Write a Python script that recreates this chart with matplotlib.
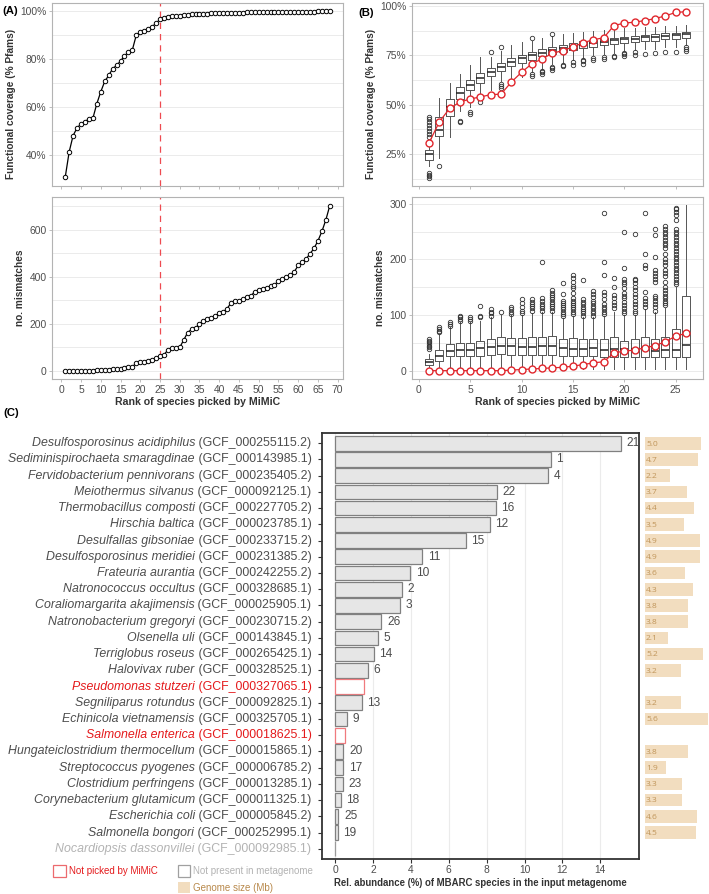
import matplotlib
matplotlib.use("Agg")
import matplotlib.pyplot as plt
from matplotlib.patches import Rectangle
from matplotlib.transforms import offset_copy, blended_transform_factory

plt.rcParams['font.family'] = ['Liberation Sans', 'DejaVu Sans']

# ---------------- data ----------------
# (A) cumulative functional coverage (% Pfams) and mismatches per rank
coverage = [30.7, 41.3, 48.1, 51.3, 52.9, 53.9, 55.1, 55.3, 61.4, 66.4,
            70.7, 73.2, 76.0, 77.4, 79.2, 81.4, 82.9, 83.9, 90.1, 91.3,
            91.8, 92.6, 93.6, 95.0, 96.7, 97.1, 97.6, 97.9, 98.1, 98.2,
            98.4, 98.6, 98.7, 98.8, 98.9, 99.0, 99.1, 99.15, 99.2, 99.25,
            99.3, 99.35, 99.4, 99.45, 99.5, 99.5, 99.55, 99.6, 99.6, 99.65,
            99.65, 99.7, 99.7, 99.75, 99.75, 99.8, 99.8, 99.8, 99.85, 99.85,
            99.85, 99.9, 99.9, 99.9, 99.95, 99.95, 99.95, 100.0]
mismatches = [0, 0, 0, 0, 0, 0, 0, 0, 1, 2, 3, 4, 5, 6, 8, 11, 14, 16, 32, 35,
              37, 41, 45, 52, 62, 67, 88, 95, 97, 99, 130, 162, 176, 182, 198,
              212, 219, 224, 233, 244, 250, 264, 289, 295, 298, 304, 313, 318,
              336, 342, 349, 353, 359, 366, 381, 391, 398, 407, 421, 448, 462,
              476, 498, 521, 553, 593, 642, 703]
cutoff_rank = 25

# (B) random-pick distributions per rank: q1, median, q3, whisker low, whisker high
cov_q1 = [22.1, 34.3, 44.4, 52.8, 57.2, 61.0, 64.6, 67.3, 69.7, 71.3, 72.7, 74.4, 75.6,
          76.9, 77.8, 78.6, 79.4, 80.3, 80.8, 81.1, 81.6, 82.0, 82.5, 83.1, 83.5, 84.0]
cov_med = [25.0, 37.3, 48.6, 56.0, 60.2, 63.6, 66.8, 69.3, 71.7, 73.5, 75.0, 76.4, 77.8,
           78.6, 79.4, 80.3, 81.1, 81.6, 82.8, 83.1, 83.5, 84.2, 84.5, 85.0, 85.3, 85.8]
cov_q3 = [26.9, 43.7, 53.1, 58.9, 62.6, 66.0, 68.8, 71.3, 73.5, 75.2, 76.9, 78.0, 79.4,
          80.3, 81.1, 82.0, 82.8, 83.6, 84.0, 84.5, 84.8, 85.3, 85.7, 86.2, 86.5, 87.0]
cov_wlo = [18.8, 23.0, 33.4, 46.6, 49.0, 52.8, 57.5, 62.0, 63.4, 64.0, 66.5, 68.0, 70.5,
           71.0, 72.5, 73.5, 75.0, 75.5, 76.0, 77.0, 77.5, 78.0, 78.0, 79.0, 79.0, 80.0]
cov_whi = [32.0, 53.3, 61.0, 65.6, 70.0, 73.9, 74.0, 77.0, 80.0, 81.6, 82.0, 84.0, 85.0,
           86.0, 86.5, 87.0, 87.5, 88.0, 88.5, 89.0, 89.0, 89.5, 89.5, 90.0, 90.0, 90.5]
cov_out = [[33.5, 35, 36.5, 38, 39.5, 41, 42.5, 43.5, 13, 13.8, 14.5, 15.4],
           [18.8], [], [41, 41.6], [45.5, 46.5], [51.5], [76.6],
           [79, 58.5, 59.5, 60.5], [], [], [84, 64.5, 65.3], [65.5, 66.5, 67.3],
           [85.8, 67.8, 68.5, 69.3], [69.5, 70.3], [70.3, 71.5], [70.5, 72, 72.8],
           [72.5, 73.5], [73.3, 74], [74.2, 74.8], [74.7, 75.5, 76], [75.2, 76.6],
           [75.6], [76], [76.6], [76.9], [77.3, 78.2, 79.2]]

mm_q1 = [10.8, 18, 27, 27, 27, 27, 28, 30, 28, 28, 28, 28, 28,
         26, 26, 26, 26, 25, 24, 24, 24, 24, 24, 24, 24, 24]
mm_med = [16, 27, 36, 37, 37, 40, 42, 44, 44, 42, 42, 44, 44,
          41, 39, 39, 40, 37, 39, 39, 39, 41, 36, 37, 37, 46]
mm_q3 = [21, 37, 47, 50, 50, 54, 57, 60, 58, 58, 60, 61, 62,
         57, 58, 57, 57, 56, 60, 54, 56, 60, 56, 61, 75, 134]
mm_wlo = [6, 3, 3, 3, 3, 3, 3, 3, 3, 3, 3, 3, 3,
          3, 3, 3, 3, 3, 3, 3, 3, 3, 3, 3, 3, 3]
mm_whi = [30, 66, 78, 87, 87, 90, 97, 100, 100, 100, 104, 105, 105,
          95, 98, 96, 96, 99, 105, 100, 100, 110, 105, 112, 150, 297]
mm_out = [[39, 42, 45, 48, 51, 54, 57], [69, 72, 75, 78], [81, 84, 87],
          [90, 93, 96, 99], [90, 93, 96], [96, 98, 117], [99, 103, 106, 110],
          [105], [102, 106, 110, 114], [103, 108, 115, 121, 128],
          [108, 112, 116, 120, 124, 128], [108, 112, 116, 120, 125, 130, 196],
          [108, 112, 116, 120, 124, 128, 132, 136, 140, 145],
          [98, 102, 106, 110, 114, 118, 122, 126, 138, 157],
          [102, 106, 110, 114, 118, 122, 126, 130, 140, 148, 152, 160, 167, 172],
          [99, 103, 107, 111, 115, 119, 123, 128, 163],
          [99, 104, 108, 112, 117, 121, 126, 133, 138, 143],
          [102, 106, 110, 115, 120, 128, 136, 142, 172, 196, 284],
          [112, 118, 124, 130, 136, 150, 166],
          [103, 108, 113, 118, 124, 130, 135, 140, 148, 155, 160, 165, 185, 250],
          [104, 108, 114, 120, 126, 132, 138, 145, 150, 157, 162, 165, 245],
          [115, 120, 125, 130, 142, 185, 190, 210, 284],
          [108, 114, 120, 125, 130, 135, 160, 165, 170, 175, 180, 205, 243, 255],
          [118, 122, 126, 130, 135, 140, 145, 150, 160, 170, 175, 180, 190, 195,
           200, 210, 220, 225, 230, 235, 240, 245, 250, 255, 260],
          [155, 160, 165, 170, 175, 180, 185, 190, 195, 200, 205, 210, 215, 220,
           225, 230, 235, 240, 245, 250, 255, 270, 280, 285, 290, 293],
          []]

# (C) MBARC species
species = ["Desulfosporosinus acidiphilus", "Sediminispirochaeta smaragdinae",
           "Fervidobacterium pennivorans", "Meiothermus silvanus",
           "Thermobacillus composti", "Hirschia baltica", "Desulfallas gibsoniae",
           "Desulfosporosinus meridiei", "Frateuria aurantia", "Natronococcus occultus",
           "Coraliomargarita akajimensis", "Natronobacterium gregoryi", "Olsenella uli",
           "Terriglobus roseus", "Halovivax ruber", "Pseudomonas stutzeri",
           "Segniliparus rotundus", "Echinicola vietnamensis", "Salmonella enterica",
           "Hungateiclostridium thermocellum", "Streptococcus pyogenes",
           "Clostridium perfringens", "Corynebacterium glutamicum", "Escherichia coli",
           "Salmonella bongori", "Nocardiopsis dassonvillei"]
accessions = ["GCF_000255115.2", "GCF_000143985.1", "GCF_000235405.2", "GCF_000092125.1",
              "GCF_000227705.2", "GCF_000023785.1", "GCF_000233715.2", "GCF_000231385.2",
              "GCF_000242255.2", "GCF_000328685.1", "GCF_000025905.1", "GCF_000230715.2",
              "GCF_000143845.1", "GCF_000265425.1", "GCF_000328525.1", "GCF_000327065.1",
              "GCF_000092825.1", "GCF_000325705.1", "GCF_000018625.1", "GCF_000015865.1",
              "GCF_000006785.2", "GCF_000013285.1", "GCF_000011325.1", "GCF_000005845.2",
              "GCF_000252995.1", "GCF_000092985.1"]
abundance = [15.1, 11.39, 11.26, 8.56, 8.49, 8.16, 6.9, 4.59, 3.97, 3.53, 3.41, 2.45, 2.26,
             2.05, 1.75, 1.55, 1.41, 0.62, 0.51, 0.44, 0.44, 0.42, 0.30, 0.18, 0.14, 0.02]
mimic_rank = [21, 1, 4, 22, 16, 12, 15, 11, 10, 2, 3, 26, 5, 14, 6, None, 13, 9, None,
              20, 17, 23, 18, 25, 19, None]
status = ["picked"] * 15 + ["notpicked"] + ["picked"] * 2 + ["notpicked"] + \
         ["picked"] * 6 + ["absent"]
genome_size = [5.0, 4.7, 2.2, 3.7, 4.4, 3.5, 4.9, 4.9, 3.6, 4.3, 3.8, 3.8, 2.1, 5.2, 3.2,
               None, 3.2, 5.6, None, 3.8, 1.9, 3.3, 3.3, 4.6, 4.5, None]

# ---------------- style ----------------
W, H = 709, 894
GRID = '#ebebeb'
BORDER = '#b3b3b3'
TICKTXT = '#4d4d4d'
TITLE = '#333333'
RED = '#e0262c'
fs_tick = 7.4
fs_title = 7.6


def px_axes(l, t, r, b):
    return fig.add_axes([l / W, 1 - b / H, (r - l) / W, (b - t) / H])


def light_theme(ax, hgrid):
    for s in ax.spines.values():
        s.set_color(BORDER)
        s.set_linewidth(0.8)
    ax.tick_params(colors=BORDER, labelcolor=TICKTXT, labelsize=fs_tick,
                   length=2.5, width=0.6, pad=1.5)
    for g in hgrid:
        ax.axhline(g, color=GRID, lw=0.7, zorder=0)
    ax.set_axisbelow(True)


fig = plt.figure(figsize=(W / 100, H / 100), dpi=100)

ranks = list(range(1, len(coverage) + 1))

# ---------------- (A) ----------------
axA1 = px_axes(52, 3, 343, 186)
axA2 = px_axes(52, 197, 343, 379)
light_theme(axA1, [40, 50, 60, 70, 80, 90, 100])
light_theme(axA2, [0, 100, 200, 300, 400, 500, 600, 700])
axA1.plot(ranks, coverage, '-o', color='black', lw=0.9, ms=3.2, mfc='white',
          mec='black', mew=0.7, zorder=3)
axA2.plot(ranks, mismatches, '-o', color='black', lw=0.9, ms=3.2, mfc='white',
          mec='black', mew=0.7, zorder=3)
for ax in (axA1, axA2):
    ax.axvline(cutoff_rank, color='#ee4a50', lw=0.9, ls=(0, (5, 4)), zorder=2)
    ax.set_xlim(-2.35, 71.35)
    ax.set_xticks(range(0, 71, 5))
axA1.set_xticklabels([])
axA1.set_ylim(27.0, 103.5)
axA1.set_yticks([40, 60, 80, 100])
axA1.set_yticklabels(['40%', '60%', '80%', '100%'])
axA2.set_ylim(-36, 740)
axA2.set_yticks([0, 200, 400, 600])

# ---------------- (B) ----------------
axB1 = px_axes(412, 3, 703, 186)
axB2 = px_axes(412, 197, 703, 379)
light_theme(axB1, [12.5, 25, 37.5, 50, 62.5, 75, 87.5, 100])
light_theme(axB2, [0, 50, 100, 150, 200, 250, 300])

branks = list(range(1, 27))


def box_stats(q1, med, q3, wlo, whi, out):
    return [dict(q1=a, med=m, q3=c, whislo=lo, whishi=hi, fliers=f)
            for a, m, c, lo, hi, f in zip(q1, med, q3, wlo, whi, out)]


for ax, st in ((axB1, box_stats(cov_q1, cov_med, cov_q3, cov_wlo, cov_whi, cov_out)),
               (axB2, box_stats(mm_q1, mm_med, mm_q3, mm_wlo, mm_whi, mm_out))):
    ax.bxp(st, positions=branks, widths=0.78, showfliers=True, manage_ticks=False,
           boxprops=dict(color='#555555', lw=0.7),
           whiskerprops=dict(color='#555555', lw=0.7),
           capprops=dict(lw=0),
           medianprops=dict(color='#222222', lw=1.1),
           flierprops=dict(marker='o', ms=3.2, mfc='none', mec='#333333', mew=0.6))
    ax.set_xlim(-0.66, 27.66)
    ax.set_xticks(range(0, 26, 5))

axB1.plot(branks, coverage[:26], '-o', color=RED, lw=0.9, ms=5, mfc='white',
          mec=RED, mew=1.0, zorder=5)
axB2.plot(branks, mismatches[:26], '-o', color=RED, lw=0.9, ms=5, mfc='white',
          mec=RED, mew=1.0, zorder=5)
axB1.set_xticklabels([])
axB1.set_ylim(8.8, 101.5)
axB1.set_yticks([25, 50, 75, 100])
axB1.set_yticklabels(['25%', '50%', '75%', '100%'])
axB2.set_ylim(-15, 312)
axB2.set_yticks([0, 100, 200, 300])

# axis titles
for ax, lab in ((axA1, 'Functional coverage (% Pfams)'), (axA2, 'no. mismatches'),
                (axB1, 'Functional coverage (% Pfams)'), (axB2, 'no. mismatches')):
    ax.set_ylabel(lab, fontsize=7.3, fontweight='bold', color=TITLE, labelpad=3)
for ax in (axA1, axB1):
    ax.yaxis.label.set_y(0.45)
for ax in (axA2, axB2):
    ax.set_xlabel('Rank of species picked by MiMiC', fontsize=fs_title,
                  fontweight='bold', color=TITLE, labelpad=2)

fig.text(2 / W, 1 - 11 / H, '(A)', fontsize=8.2, fontweight='bold', va='center')
fig.text(358 / W, 1 - 13 / H, '(B)', fontsize=8.2, fontweight='bold', va='center')
fig.text(3 / W, 1 - 413 / H, '(C)', fontsize=8.2, fontweight='bold', va='center')

# ---------------- (C) ----------------
axC = px_axes(322, 433, 639.3, 859)
n = len(species)
rows = list(range(n))
face = {'picked': '#e6e6e6', 'notpicked': 'white', 'absent': 'white'}
edge = {'picked': '#808080', 'notpicked': '#f07a7e', 'absent': '#9a9a9a'}
txtcol = {'picked': '#4d4d4d', 'notpicked': '#e41a1c', 'absent': '#b3b3b3'}
axC.barh(rows, abundance, height=0.9, color=[face[s] for s in status],
         edgecolor=[edge[s] for s in status], linewidth=0.9, zorder=2)
for i, (v, r) in enumerate(zip(abundance, mimic_rank)):
    if r is not None:
        axC.annotate(str(r), (v, i), xytext=(4, 0), textcoords='offset points',
                     ha='left', va='center', fontsize=8.6, color='#4d4d4d')
axC.set_xlim(-0.69, 16.06)
axC.set_ylim(n - 1 + 0.63, -0.63)
axC.set_xticks(range(0, 15, 2))
for g in range(0, 15, 2):
    axC.axvline(g, color=GRID, lw=0.8, zorder=0)
axC.set_yticks(rows)
axC.set_yticklabels([])
for s in axC.spines.values():
    s.set_color('#333333')
    s.set_linewidth(1.3)
axC.tick_params(axis='x', colors='#333333', labelcolor=TICKTXT, labelsize=fs_tick,
                length=3, width=0.8, pad=1.5)
axC.tick_params(axis='y', colors='#333333', length=3, width=0.8)
axC.set_xlabel('Rel. abundance (%) of MBARC species in the input metagenome',
               fontsize=6.9, fontweight='bold', color=TITLE, labelpad=2)

tr = offset_copy(blended_transform_factory(axC.transAxes, axC.transData),
                 fig=fig, x=-10.5, y=0, units='dots')
for i, (sp, acc, s) in enumerate(zip(species, accessions, status)):
    t2 = axC.text(0, i, ' (%s)' % acc, transform=tr, ha='right', va='center',
                  fontsize=8.9, color=txtcol[s])
    axC.annotate(sp, xy=(0, 0), xycoords=t2, ha='right', va='bottom',
                 fontsize=8.9, style='italic', color=txtcol[s])

# genome size side bars
axG = px_axes(644.7, 433, 709, 859)
gs_rows = [i for i, g in enumerate(genome_size) if g is not None]
gs_vals = [genome_size[i] for i in gs_rows]
axG.barh(gs_rows, gs_vals, height=0.78, color='#f2ddbf', edgecolor='none')
for i, g in zip(gs_rows, gs_vals):
    axG.text(0.12, i + 0.05, '%.1f' % g, ha='left', va='center', fontsize=6.0,
             color='#c0955a', family=['Open Sans', 'DejaVu Sans'])
axG.set_xlim(0, 5.69)
axG.set_ylim(n - 1 + 0.63, -0.63)
axG.axis('off')

# legend
fig.patches.append(Rectangle((53.5 / W, 1 - 877 / H), 12.5 / W, 12.5 / H, fill=False,
                             edgecolor='#ec6a6e', lw=0.9, transform=fig.transFigure))
fig.text(69 / W, 1 - 871 / H, 'Not picked by MiMiC', fontsize=7.0, color='#e41a1c',
         va='center')
fig.patches.append(Rectangle((177.5 / W, 1 - 877 / H), 12.5 / W, 12.5 / H, fill=False,
                             edgecolor='#a0a0a0', lw=0.9, transform=fig.transFigure))
fig.text(193 / W, 1 - 871 / H, 'Not present in metagenome', fontsize=7.0,
         color='#b3b3b3', va='center')
fig.patches.append(Rectangle((177.5 / W, 1 - 893 / H), 12.5 / W, 11 / H,
                             facecolor='#f2ddbf', edgecolor='none',
                             transform=fig.transFigure))
fig.text(193 / W, 1 - 888 / H, 'Genome size (Mb)', fontsize=7.0, color='#b8884a',
         va='center')

fig.savefig('out.png', dpi=100)
